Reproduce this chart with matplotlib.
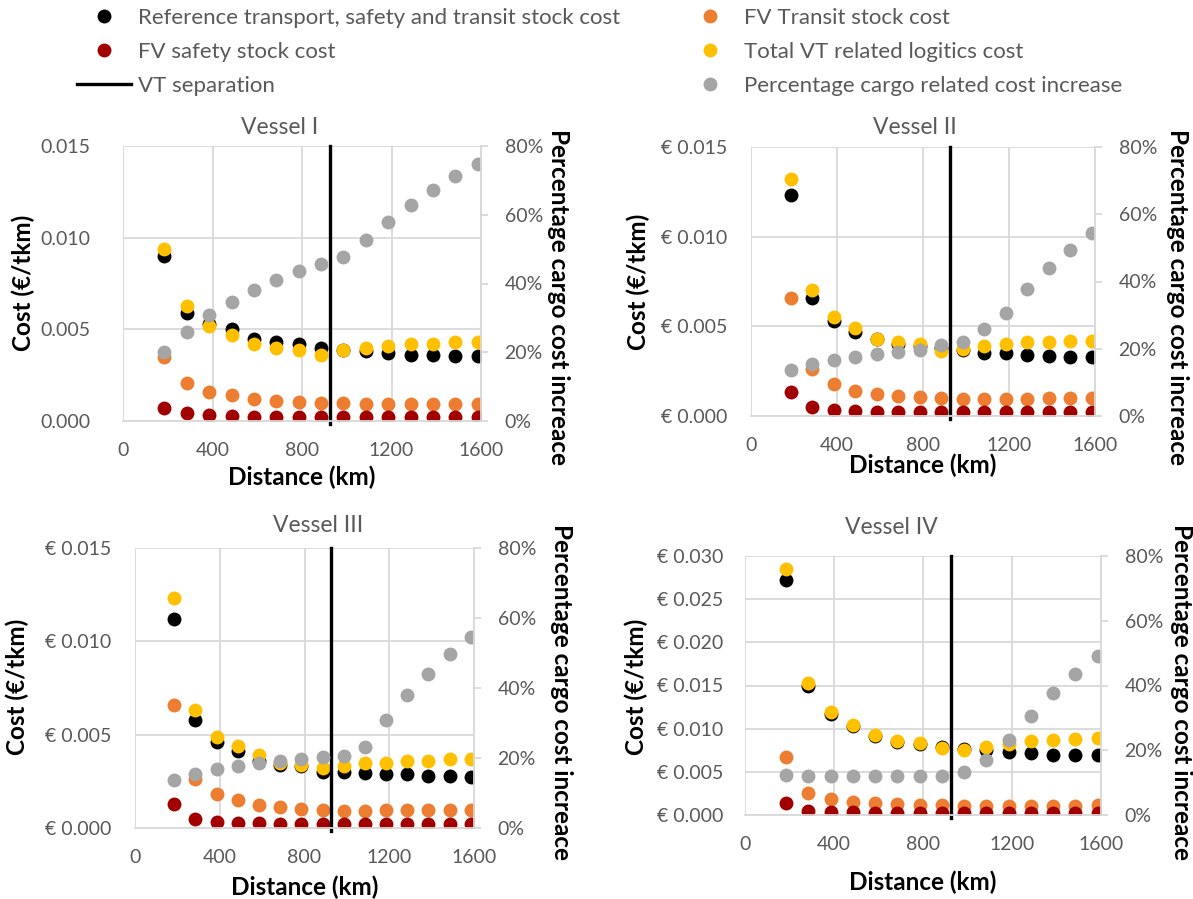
import matplotlib
matplotlib.use("Agg")
import matplotlib.pyplot as plt
import matplotlib.ticker as mticker
from matplotlib.lines import Line2D

plt.rcParams['font.family'] = ['Lato', 'DejaVu Sans']

# ---- data ----
distance = [185, 285, 385, 485, 585, 685, 785, 885, 985, 1085, 1185, 1285, 1385, 1485, 1585]
vt_separation = 925
vessels = ['Vessel I', 'Vessel II', 'Vessel III', 'Vessel IV']

# reference transport, safety and transit stock cost (EUR/tkm)
ref_cost = [
    [0.0090, 0.0059, 0.0053, 0.0050, 0.00445, 0.0043, 0.0042, 0.0040, 0.0039, 0.0038, 0.0037, 0.0036, 0.0036, 0.00356, 0.00354],
    [0.0123, 0.0066, 0.0053, 0.0047, 0.0043, 0.0040, 0.0039, 0.0038, 0.0037, 0.0035, 0.0035, 0.0034, 0.00335, 0.0033, 0.0033],
    [0.0112, 0.0058, 0.0046, 0.0041, 0.0036, 0.0034, 0.0033, 0.0030, 0.0030, 0.00295, 0.0029, 0.00287, 0.0028, 0.0028, 0.00275],
    [0.0272, 0.0149, 0.0117, 0.0103, 0.0092, 0.0085, 0.0082, 0.0079, 0.0076, 0.0075, 0.0073, 0.0072, 0.0070, 0.0069, 0.0069],
]
# FV transit stock cost
transit_cost = [
    [0.0035, 0.0021, 0.0016, 0.0014, 0.0012, 0.0011, 0.00104, 0.00098, 0.00096, 0.00091, 0.00091, 0.00091, 0.00091, 0.00091, 0.00091],
    [0.0066, 0.0026, 0.0018, 0.0014, 0.0012, 0.0011, 0.00106, 0.00102, 0.00095, 0.00095, 0.00096, 0.00097, 0.00098, 0.00098, 0.0010],
    [0.0066, 0.0026, 0.0018, 0.0015, 0.00125, 0.00114, 0.00104, 0.00096, 0.00093, 0.00093, 0.00094, 0.00095, 0.00096, 0.00097, 0.00098],
    [0.0067, 0.0026, 0.0019, 0.0015, 0.0014, 0.0013, 0.0012, 0.0012, 0.0011, 0.0011, 0.0011, 0.0011, 0.0011, 0.0011, 0.0012],
]
# FV safety stock cost
safety_cost = [
    [0.00073, 0.00042, 0.00033, 0.00027, 0.00024, 0.00021, 0.0002, 0.0002, 0.0002, 0.0002, 0.0002, 0.0002, 0.0002, 0.0002, 0.0002],
    [0.00134, 0.00052, 0.00035, 0.00026, 0.00022, 0.00021, 0.0002, 0.0002, 0.0002, 0.0002, 0.0002, 0.0002, 0.0002, 0.0002, 0.0002],
    [0.00127, 0.0005, 0.00034, 0.00029, 0.00027, 0.00023, 0.00023, 0.00023, 0.00023, 0.00023, 0.00023, 0.00023, 0.00023, 0.00023, 0.00023],
    [0.0014, 0.0005, 0.00035, 0.0003, 0.00025, 0.00023, 0.00023, 0.00023, 0.00023, 0.00023, 0.00023, 0.00023, 0.00023, 0.00023, 0.00023],
]
# total VT related logistics cost
total_cost = [
    [0.0094, 0.0063, 0.0052, 0.0047, 0.0042, 0.0040, 0.0039, 0.0036, 0.0039, 0.0040, 0.0041, 0.0042, 0.0042, 0.0043, 0.0043],
    [0.0132, 0.0070, 0.0055, 0.0049, 0.0043, 0.0041, 0.0040, 0.0036, 0.00375, 0.0039, 0.0040, 0.0041, 0.0041, 0.0042, 0.0042],
    [0.0123, 0.0063, 0.0049, 0.0044, 0.0039, 0.0035, 0.0034, 0.0032, 0.0033, 0.0035, 0.0035, 0.0036, 0.0036, 0.0037, 0.0037],
    [0.0285, 0.0153, 0.0119, 0.0104, 0.0093, 0.0086, 0.0083, 0.0078, 0.0075, 0.0079, 0.0082, 0.0086, 0.0087, 0.0088, 0.0089],
]
# percentage cargo related cost increase (secondary axis)
pct_increase = [
    [0.200, 0.258, 0.309, 0.347, 0.381, 0.411, 0.435, 0.458, 0.477, 0.527, 0.579, 0.629, 0.671, 0.712, 0.748],
    [0.136, 0.156, 0.167, 0.175, 0.184, 0.190, 0.197, 0.210, 0.219, 0.259, 0.307, 0.377, 0.439, 0.494, 0.544],
    [0.136, 0.155, 0.169, 0.177, 0.187, 0.192, 0.198, 0.203, 0.207, 0.231, 0.310, 0.379, 0.441, 0.496, 0.546],
    [0.123, 0.122, 0.122, 0.122, 0.122, 0.122, 0.122, 0.122, 0.132, 0.169, 0.232, 0.307, 0.376, 0.436, 0.492],
]
y_max = [0.015, 0.015, 0.015, 0.030]
y_fmt = ['{x:.3f}', '€ {x:.3f}', '€ {x:.3f}', '€ {x:.3f}']

# ---- layout (pixels) ----
W, H = 1193, 899
panel_px = [(123, 146, 481, 421), (751, 147, 1095, 416), (135, 548, 474, 828), (745, 556, 1101, 815)]
title_px = [(280, 128), (915, 128), (318, 525), (891, 528)]
ylab_px = [(23, 283), (638, 282), (17, 687), (636, 687)]
rlab_px = [(559, 297), (1178, 297), (561, 692), (1181, 692)]
xlab_y = [477, 465, 887, 882]
ytick_pad = [33, 24, 24, 22]

c_ref, c_tr, c_sf, c_tot, c_pct = '#000000', '#ED7D31', '#A00000', '#FFC000', '#A5A5A5'
txt_grey = '#595959'
grid_c = '#D9D9D9'
ms = 10
tick_fs = 14
lab_fs = 17.5

fig = plt.figure(figsize=(W / 100, H / 100), dpi=100)

for i in range(4):
    l, t, r, b = panel_px[i]
    ax = fig.add_axes([l / W, 1 - b / H, (r - l) / W, (b - t) / H])
    pw, ph = r - l, b - t

    ax.plot(distance, ref_cost[i], 'o', color=c_ref, ms=ms, mew=0)
    ax.plot(distance, transit_cost[i], 'o', color=c_tr, ms=ms, mew=0)
    ax.plot(distance, safety_cost[i], 'o', color=c_sf, ms=ms, mew=0)
    ax.plot(distance, total_cost[i], 'o', color=c_tot, ms=ms, mew=0)
    ax.axvline(vt_separation, ymin=-0.01, ymax=1, color='black', lw=2.4, clip_on=False)

    ax.set_xlim(0, 1600)
    ax.set_ylim(0, y_max[i])
    ax.set_xticks([0, 400, 800, 1200, 1600])
    ax.set_yticks([k * 0.005 for k in range(int(round(y_max[i] / 0.005)) + 1)])
    ax.yaxis.set_major_formatter(mticker.StrMethodFormatter(y_fmt[i]))
    ax.grid(True, color=grid_c, lw=1.3)
    ax.set_axisbelow(True)
    for s in ['left', 'top', 'right']:
        ax.spines[s].set_visible(False)
    ax.spines['bottom'].set_color(grid_c)
    ax.spines['bottom'].set_linewidth(1.3)
    ax.tick_params(axis='both', length=0, labelsize=tick_fs, labelcolor=txt_grey)
    ax.tick_params(axis='y', pad=ytick_pad[i] / 1.389)
    ax.tick_params(axis='x', pad=15)

    ax.set_xlabel('Distance (km)', fontsize=lab_fs, fontweight='bold')
    ax.xaxis.set_label_coords(0.5, (b - xlab_y[i]) / ph)
    ax.xaxis.label.set_va('center')
    ax.set_ylabel('Cost (€/tkm)', fontsize=lab_fs, fontweight='bold', va='center', ha='center')
    ax.yaxis.set_label_coords((ylab_px[i][0] - l) / pw, (b - ylab_px[i][1]) / ph)

    tx, ty = title_px[i]
    ax.text((tx - l) / pw, (b - ty) / ph, vessels[i], transform=ax.transAxes,
            ha='center', va='center', fontsize=16.5, color=txt_grey)

    ax2 = ax.twinx()
    ax2.plot(distance, pct_increase[i], 'o', color=c_pct, ms=ms, mew=0)
    ax2.set_ylim(0, 0.8)
    ax2.set_yticks([0, 0.2, 0.4, 0.6, 0.8])
    ax2.yaxis.set_major_formatter(mticker.PercentFormatter(1.0, decimals=0))
    for s in ['left', 'top', 'bottom']:
        ax2.spines[s].set_visible(False)
    ax2.spines['right'].set_color(grid_c)
    ax2.spines['right'].set_linewidth(1.3)
    ax2.tick_params(axis='y', length=5, width=1.3, color=grid_c, labelsize=tick_fs,
                    labelcolor=txt_grey, pad=12)
    ax2.set_ylabel('Percentage cargo cost increace', fontsize=lab_fs, fontweight='bold',
                   rotation=-90, va='center', ha='center')
    ax2.yaxis.set_label_coords((rlab_px[i][0] - l) / pw, (b - rlab_px[i][1]) / ph)

# ---- legend (two columns) ----
def dot(c):
    return Line2D([], [], ls='none', marker='o', color=c, ms=ms, mew=0)

leg_kw = dict(loc='upper left', frameon=False, fontsize=16, handlelength=2.45,
              handletextpad=0.3, labelspacing=0.62, borderpad=0, borderaxespad=0,
              labelcolor=txt_grey)
fig.legend([dot(c_ref), dot(c_sf), Line2D([], [], color='black', lw=2.4)],
           ['Reference transport, safety and transit stock cost', 'FV safety stock cost', 'VT separation'],
           bbox_to_anchor=(77 / W, 1 - 8 / H), **leg_kw)
fig.legend([dot(c_tr), dot(c_tot), dot(c_pct)],
           ['FV Transit stock cost', 'Total VT related logitics cost', 'Percentage cargo related cost increase'],
           bbox_to_anchor=(683 / W, 1 - 8 / H), **leg_kw)

fig.savefig('out.png', dpi=100)
